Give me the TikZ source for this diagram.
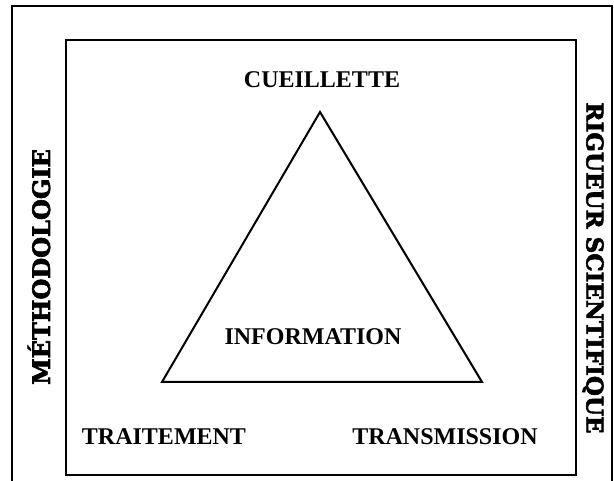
\documentclass[tikz,border=0pt]{standalone}
\usepackage{fontspec}
\setmainfont{Liberation Serif}
\newfontfamily\lourde[BoldFeatures={FakeBold=2.5}]{DejaVu Serif}
\usetikzlibrary{positioning}

\tikzset{
	etiquette/.style={font=\fontsize{24}{26}\selectfont\bfseries, inner sep=0pt},
	cote/.style={font=\lourde\fontsize{24}{26}\selectfont\bfseries, inner sep=0pt}
}

\begin{document}
\begin{tikzpicture}[x=1pt, y=-1pt]

	\useasboundingbox (0,0) rectangle (614,481);

	% Cadre extérieur
	\draw[line width=1.5pt] (12,481) -- (12,6) -- (612,6) -- (612,481);

	% Cadre intérieur
	\draw[line width=2.5pt] (66,40) rectangle (576,475);

	% Triangle
	\coordinate (sommet) at (320,112);
	\coordinate (gauche) at (162,382);
	\coordinate (droite) at (482,382);
	\draw[line width=2pt, line join=miter] (sommet) -- (gauche) -- (droite) -- cycle;

	% Étiquettes
	\node[etiquette] (cueillette) at (322,80) {CUEILLETTE};
	\node[etiquette] (information) at (313,337) {INFORMATION};
	\node[etiquette] (traitement) at (164,437) {TRAITEMENT};
	\node[etiquette] (transmission) at (445,437) {TRANSMISSION};

	% Textes de côté
	\node[cote, rotate=90] (methodo) at (39,267) {MÉTHODOLOGIE};
	\node[cote, rotate=-90, font=\lourde\fontsize{23}{25}\selectfont\bfseries] (rigueur) at (593,268) {RIGUEUR SCIENTIFIQUE};

\end{tikzpicture}
\end{document}
